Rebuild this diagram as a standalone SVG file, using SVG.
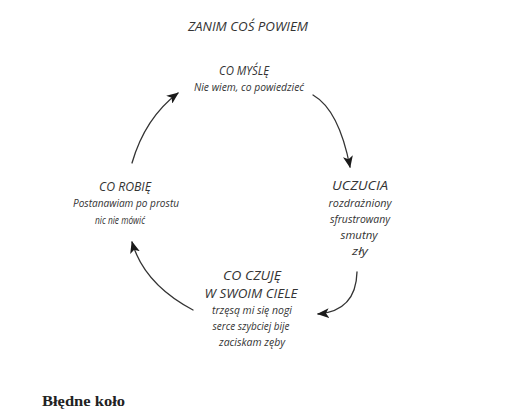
<svg xmlns="http://www.w3.org/2000/svg" width="512" height="419" viewBox="0 0 512 419">
<defs>
<style>
.cap{font-family:"Open Sans","DejaVu Sans",sans-serif;font-weight:400;font-style:italic;font-size:13px;fill:#333;text-anchor:middle}
.sub{font-family:"Open Sans","DejaVu Sans",sans-serif;font-weight:400;font-style:italic;font-size:11.5px;fill:#333;text-anchor:middle}
.edge{fill:none;stroke:#333;stroke-width:1.3;stroke-linecap:round}
.cap2{font-family:"Liberation Serif","Times New Roman",serif;font-weight:bold;font-size:15px;fill:#222}
</style>
<marker id="ah" viewBox="0 0 12 10" refX="11" refY="5" markerWidth="12" markerHeight="10" markerUnits="userSpaceOnUse" orient="auto">
<path d="M0,0 L12,5 L0,10 L3,5 z" fill="#1a1a1a"/>
</marker>
</defs>
<rect width="512" height="419" fill="#ffffff"/>

<g id="title">
<text class="cap" x="248" y="31" textLength="120" lengthAdjust="spacingAndGlyphs">ZANIM COŚ POWIEM</text>
</g>

<g id="node-mysle">
<text class="cap" x="244" y="75" textLength="50" lengthAdjust="spacingAndGlyphs">CO MYŚLĘ</text>
<text class="sub" x="249" y="91" textLength="110" lengthAdjust="spacingAndGlyphs">Nie wiem, co powiedzieć</text>
</g>

<g id="node-uczucia">
<text class="cap" x="360" y="190" textLength="56" lengthAdjust="spacingAndGlyphs">UCZUCIA</text>
<text class="sub" x="360" y="207" textLength="63" lengthAdjust="spacingAndGlyphs">rozdrażniony</text>
<text class="sub" x="360" y="223" textLength="60" lengthAdjust="spacingAndGlyphs">sfrustrowany</text>
<text class="sub" x="359" y="239" textLength="37" lengthAdjust="spacingAndGlyphs">smutny</text>
<text class="sub" x="360" y="255" textLength="16" lengthAdjust="spacingAndGlyphs">zły</text>
</g>

<g id="node-czuje">
<text class="cap" x="252" y="280" textLength="58" lengthAdjust="spacingAndGlyphs">CO CZUJĘ</text>
<text class="cap" x="251" y="297.5" textLength="93" lengthAdjust="spacingAndGlyphs">W SWOIM CIELE</text>
<text class="sub" x="252" y="313.5" textLength="80" lengthAdjust="spacingAndGlyphs">trzęsą mi się nogi</text>
<text class="sub" x="251" y="330" textLength="77" lengthAdjust="spacingAndGlyphs">serce szybciej bije</text>
<text class="sub" x="252" y="346" textLength="66" lengthAdjust="spacingAndGlyphs">zaciskam zęby</text>
</g>

<g id="node-robie">
<text class="cap" x="125" y="191" textLength="52" lengthAdjust="spacingAndGlyphs">CO ROBIĘ</text>
<text class="sub" x="126" y="207" textLength="106" lengthAdjust="spacingAndGlyphs">Postanawiam po prostu</text>
<text class="sub" x="120" y="224" textLength="50" lengthAdjust="spacingAndGlyphs">nic nie mówić</text>
</g>

<g id="connectors">
<path class="edge" d="M313,95 Q339,110 350,167" marker-end="url(#ah)"/>
<path class="edge" d="M357,272 Q356,311 318,314" marker-end="url(#ah)"/>
<path class="edge" d="M193,310 Q144,284 132,242" marker-end="url(#ah)"/>
<path class="edge" d="M132,163 Q145,118 178,93" marker-end="url(#ah)"/>
</g>

<g id="caption">
<text class="cap2" x="42" y="406" textLength="83" lengthAdjust="spacingAndGlyphs">Błędne koło</text>
</g>
</svg>
